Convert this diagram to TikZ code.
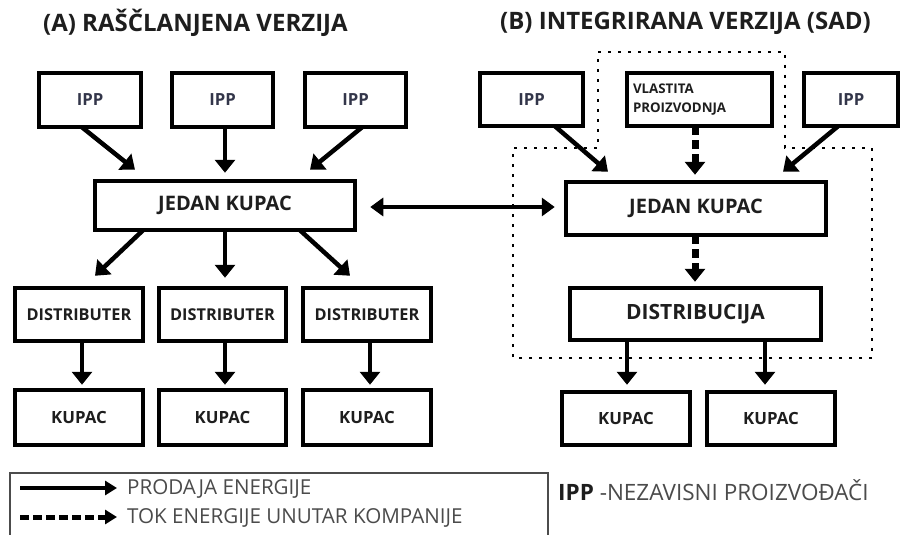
\documentclass[tikz,border=0pt]{standalone}
\usepackage{fontspec}
\setmainfont{Open Sans}
\usetikzlibrary{arrows.meta,calc}
\definecolor{txt}{HTML}{1E1E1E}
\definecolor{ipptxt}{HTML}{33364A}
\tikzset{
  bx/.style={draw=black, line width=4.5pt, inner sep=0pt, font=\bfseries\fontsize{20}{22}\selectfont, text=txt},
  ippf/.style={text=ipptxt, font=\bfseries\fontsize{16.7}{18}\selectfont},
  distf/.style={font=\bfseries\fontsize{16.3}{18}\selectfont},
  kupf/.style={font=\bfseries\fontsize{16.8}{18}\selectfont},
  vlf/.style={font=\bfseries\fontsize{13.3}{19}\selectfont},
  arr/.style={line width=4.5pt, -{Triangle[width=20pt,length=13pt]}},
  darr/.style={line width=7pt, dash pattern=on 9pt off 5pt, -{Triangle[width=20pt,length=13pt]}},
  lgarr/.style={line width=4pt, -{Triangle[width=14pt,length=12pt]}},
  lgdarr/.style={line width=5pt, dash pattern=on 9pt off 4pt, -{Triangle[width=14pt,length=12pt]}},
  boundary/.style={line width=2.6pt, dash pattern=on 3pt off 7pt},
  title/.style={anchor=west, font=\bfseries\fontsize{24}{27}\selectfont, text=txt, inner sep=0pt},
  legtxt/.style={anchor=west, font=\fontsize{20.6}{24}\selectfont, text=txt!80, inner sep=0pt}
}
\begin{document}
\begin{tikzpicture}[x=1pt,y=-1pt]
\useasboundingbox (0,0) rectangle (903,535);
\fill[white] (0,0) rectangle (903,535);

% titles
\node[title] (tA) at (43,23) {(A) RAŠČLANJENA VERZIJA};
\node[title] (tB) at (500,23) {(B) INTEGRIRANA VERZIJA (SAD)};

% ---- A ----
\node[bx, ippf, minimum width=102pt, minimum height=54pt] (ipp1) at (90,100) {IPP};
\node[bx, ippf, minimum width=101pt, minimum height=54pt] (ipp2) at (222.5,100) {IPP};
\node[bx, ippf, minimum width=101pt, minimum height=54pt] (ipp3) at (355.5,100) {IPP};
\node[bx, minimum width=260pt, minimum height=49pt] (jkA) at (225,205.5) {JEDAN KUPAC};
\node[bx, distf, minimum width=128pt, minimum height=53pt] (d1) at (79,314.5) {DISTRIBUTER};
\node[bx, distf, minimum width=127pt, minimum height=53pt] (d2) at (222.5,314.5) {DISTRIBUTER};
\node[bx, distf, minimum width=128pt, minimum height=53pt] (d3) at (367,314.5) {DISTRIBUTER};
\node[bx, kupf, minimum width=128pt, minimum height=55pt] (k1) at (79,417.5) {KUPAC};
\node[bx, kupf, minimum width=127pt, minimum height=55pt] (k2) at (222.5,417.5) {KUPAC};
\node[bx, kupf, minimum width=128pt, minimum height=55pt] (k3) at (367,417.5) {KUPAC};

\draw[arr] ($(ipp1.south)+(-8,-2)$) -- ($(jkA.north)+(-90,-9)$);
\draw[arr] ($(ipp2.south)+(2.5,-2)$) -- ($(jkA.north)+(0,-6)$);
\draw[arr] ($(ipp3.south)+(6.5,-2)$) -- ($(jkA.north)+(85,-9)$);
\draw[arr] ($(jkA.south)+(-82,-2)$) -- ($(d1.north)+(16,-10)$);
\draw[arr] ($(jkA.south)+(0,-2)$) -- ($(d2.north)+(2.5,-8)$);
\draw[arr] ($(jkA.south)+(75,-2)$) -- ($(d3.north)+(-17,-10)$);
\draw[arr] ($(d1.south)+(3,-2)$) -- ($(k1.north)+(3,-3)$);
\draw[arr] ($(d2.south)+(2.5,-2)$) -- ($(k2.north)+(2.5,-3)$);
\draw[arr] ($(d3.south)+(3,-2)$) -- ($(k3.north)+(3,-3)$);

% ---- B ----
\node[bx, ippf, minimum width=103pt, minimum height=53pt] (ippB1) at (531.5,99.5) {IPP};
\node[bx, vlf, minimum width=145pt, minimum height=53pt, align=left, text width=133pt] (vl) at (699.5,99.5) {VLASTITA\\PROIZVODNJA};
\node[bx, ippf, minimum width=94pt, minimum height=53pt] (ippB2) at (851,99.5) {IPP};
\node[bx, minimum width=260pt, minimum height=53pt] (jkB) at (696,208.5) {JEDAN KUPAC};
\node[bx, minimum width=251pt, minimum height=52pt, font=\bfseries\fontsize{21}{23}\selectfont] (dist) at (695.5,314) {DISTRIBUCIJA};
\node[bx, kupf, minimum width=128pt, minimum height=53pt] (kB1) at (626,418.5) {KUPAC};
\node[bx, kupf, minimum width=128pt, minimum height=53pt] (kB2) at (771,418.5) {KUPAC};

% company boundary
\draw[boundary] (598,52) -- (785,52) -- (785,148) -- (872,148) -- (872,358) -- (513,358) -- (513,148) -- (598,148) -- cycle;

\draw[arr] ($(ippB1.south)+(23.5,-2)$) -- ($(jkB.north)+(-88,-8)$);
\draw[arr] ($(ippB2.south)+(-13,-2)$) -- ($(jkB.north)+(87,-8)$);
\draw[darr] ($(vl.south)+(-4.5,-2)$) -- ($(jkB.north)+(-1,-5)$);
\draw[darr] ($(jkB.south)+(-1,-2)$) -- ($(dist.north)+(-0.5,-4)$);
\draw[arr] ($(dist.south)+(-68.5,-2)$) -- ($(kB1.north)+(1,-5)$);
\draw[arr] ($(dist.south)+(69.5,-2)$) -- ($(kB2.north)+(-6,-5)$);

% link between A and B
\draw[line width=4pt, {Triangle[width=18pt,length=13pt]}-{Triangle[width=18pt,length=13pt]}]
  ($(jkA.east)+(13,1.5)$) -- ($(jkB.west)+(-9,-1.5)$);

% ---- legend ----
\draw[line width=1.2pt, draw=black!70] (10,473) rectangle (548,545);
\coordinate (l1s) at (20,488);
\coordinate (l1e) at (117,488);
\coordinate (l2s) at (20,517);
\coordinate (l2e) at (117,517);
\draw[lgarr] (l1s) -- (l1e);
\draw[lgdarr] (l2s) -- (l2e);
\node[legtxt] (lt1) at (127,489) {PRODAJA ENERGIJE};
\node[legtxt] (lt2) at (127,518) {TOK ENERGIJE UNUTAR KOMPANIJE};
\node[legtxt, font=\fontsize{22.5}{25}\selectfont] (lt3) at (558,490) {\textbf{\textcolor{txt}{IPP}} -NEZAVISNI PROIZVOĐAČI};
\end{tikzpicture}
\end{document}
